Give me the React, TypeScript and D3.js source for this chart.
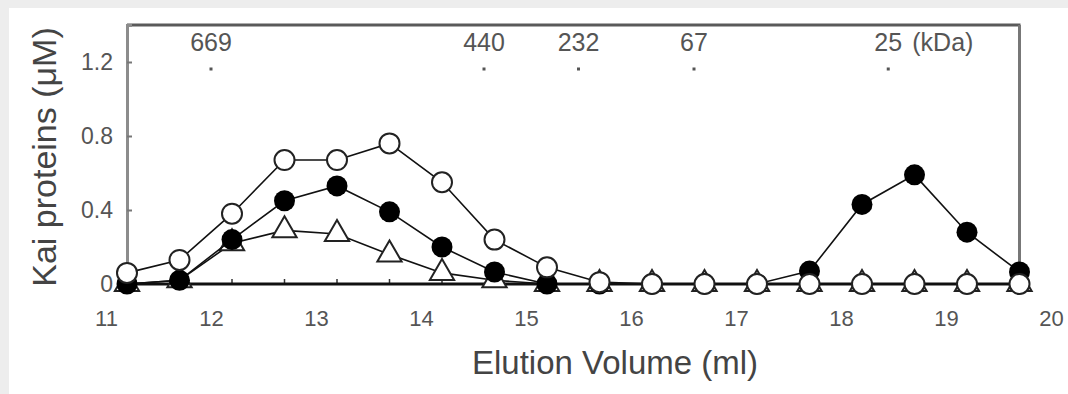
import React, { useRef, useEffect } from 'react';
import * as d3 from 'd3';

// elution volumes (ml) of the collected fractions
const VOLUMES = [11.2, 11.7, 12.2, 12.7, 13.2, 13.7, 14.2, 14.7, 15.2, 15.7, 16.2, 16.7, 17.2, 17.7, 18.2, 18.7, 19.2, 19.7];
// protein concentration (uM) per fraction
const OPEN_CIRCLES = [0.06, 0.13, 0.38, 0.67, 0.67, 0.76, 0.55, 0.24, 0.09, 0.01, 0, 0, 0, 0, 0, 0, 0, 0];
const FILLED_CIRCLES = [0, 0.02, 0.24, 0.45, 0.53, 0.39, 0.2, 0.065, 0, 0, 0, 0, 0, 0.07, 0.43, 0.59, 0.28, 0.065];
const OPEN_TRIANGLES = [0, 0.02, 0.22, 0.29, 0.27, 0.16, 0.06, 0.02, 0, 0, 0, 0, 0, 0, 0, 0, 0, 0];

const X_TICKS = [11, 12, 13, 14, 15, 16, 17, 18, 19, 20];
const Y_TICKS = [0, 0.4, 0.8, 1.2];

// size markers on top (kDa)
const MARKER_VOLUMES = [12.0, 14.6, 15.5, 16.6, 18.45];
const MARKER_LABELS = ['669', '440', '232', '67', '25'];

const FONT = '"Liberation Sans", Arial, Helvetica, sans-serif';

function ElutionChart() {
  const ref = useRef(null);
  const WIDTH = 1068;
  const HEIGHT = 394;

  useEffect(() => {
    const svg = d3.select(ref.current);
    svg.selectAll('*').remove();

    const xScale = d3.scaleLinear().domain([11, 20]).range([106, 1051]);
    const yScale = d3.scaleLinear().domain([0, 1.4]).range([284, 25]);

    const left = xScale(VOLUMES[0]);
    const right = xScale(VOLUMES[VOLUMES.length - 1]);
    const top = yScale(1.4);
    const bottom = yScale(0);

    svg.append('rect').attr('width', WIDTH).attr('height', HEIGHT).attr('fill', '#ededed');
    svg.append('rect').attr('x', 9).attr('y', 8).attr('width', WIDTH - 9).attr('height', HEIGHT - 8).attr('fill', '#fff');

    // frame: top and right
    svg.append('line')
      .attr('x1', left).attr('x2', right + 1).attr('y1', top).attr('y2', top)
      .attr('stroke', '#5a5a5a').attr('stroke-width', 3);
    svg.append('line')
      .attr('x1', right).attr('x2', right).attr('y1', top).attr('y2', bottom)
      .attr('stroke', '#777').attr('stroke-width', 3);

    // y axis
    const yAxisGroup = svg.append('g').attr('transform', `translate(${left}, 0)`);
    const yAxis = d3.axisLeft(yScale)
      .tickValues(Y_TICKS)
      .tickSize(-5)
      .tickPadding(14)
      .tickFormat(d => (d === 0 ? '0' : d.toFixed(1)));
    yAxis(yAxisGroup);
    yAxisGroup.select('.domain').attr('stroke', '#8c8c8c').attr('stroke-width', 3);
    yAxisGroup.selectAll('.tick line').attr('stroke', '#777').attr('stroke-width', 2);
    yAxisGroup.selectAll('.tick text')
      .attr('font-family', FONT).attr('font-size', 23).attr('fill', '#555');

    // x axis labels
    const xAxisGroup = svg.append('g').attr('transform', `translate(0, ${bottom})`);
    const xAxis = d3.axisBottom(xScale)
      .tickValues(X_TICKS)
      .tickSize(0)
      .tickPadding(26)
      .tickFormat(d => String(d));
    xAxis(xAxisGroup);
    xAxisGroup.select('.domain').remove();
    xAxisGroup.selectAll('.tick text')
      .attr('font-family', FONT).attr('font-size', 22).attr('fill', '#555');

    // small ticks at the fraction positions
    svg.append('g')
      .selectAll('line')
      .data(VOLUMES.slice(1, -1))
      .join('line')
      .attr('x1', d => xScale(d)).attr('x2', d => xScale(d))
      .attr('y1', bottom).attr('y2', bottom - 5)
      .attr('stroke', '#333').attr('stroke-width', 1.5);

    // baseline
    svg.append('line')
      .attr('x1', left).attr('x2', right).attr('y1', bottom).attr('y2', bottom)
      .attr('stroke', '#111').attr('stroke-width', 3);

    // size markers
    const markers = svg.append('g');
    markers.selectAll('text')
      .data(MARKER_LABELS)
      .join('text')
      .attr('x', (_, i) => xScale(MARKER_VOLUMES[i]))
      .attr('y', 51)
      .attr('text-anchor', 'middle')
      .attr('font-family', FONT).attr('font-size', 25).attr('fill', '#555')
      .text(d => d);
    markers.selectAll('rect')
      .data(MARKER_VOLUMES)
      .join('rect')
      .attr('x', d => xScale(d) - 1.5)
      .attr('y', 67.5)
      .attr('width', 3).attr('height', 3)
      .attr('fill', '#555');
    markers.append('text')
      .attr('x', xScale(MARKER_VOLUMES[MARKER_VOLUMES.length - 1]) + 24)
      .attr('y', 51)
      .attr('font-family', FONT).attr('font-size', 25).attr('fill', '#555')
      .text('(kDa)');

    const line = d3.line()
      .x((_, i) => xScale(VOLUMES[i]))
      .y(d => yScale(d));

    const triangle = d3.symbol().type(d3.symbolTriangle).size(255);

    // open triangles (bottom layer)
    svg.append('path')
      .datum(OPEN_TRIANGLES)
      .attr('d', line)
      .attr('fill', 'none').attr('stroke', '#111').attr('stroke-width', 1.6);
    svg.append('g')
      .selectAll('path')
      .data(OPEN_TRIANGLES)
      .join('path')
      .attr('d', triangle)
      .attr('transform', (d, i) => `translate(${xScale(VOLUMES[i])}, ${yScale(d)})`)
      .attr('fill', '#fff').attr('stroke', '#222').attr('stroke-width', 2);

    // filled circles
    svg.append('path')
      .datum(FILLED_CIRCLES)
      .attr('d', line)
      .attr('fill', 'none').attr('stroke', '#111').attr('stroke-width', 1.6);
    svg.append('g')
      .selectAll('circle')
      .data(FILLED_CIRCLES)
      .join('circle')
      .attr('cx', (_, i) => xScale(VOLUMES[i]))
      .attr('cy', d => yScale(d))
      .attr('r', 10.5)
      .attr('fill', '#000');

    // open circles (top layer)
    svg.append('path')
      .datum(OPEN_CIRCLES)
      .attr('d', line)
      .attr('fill', 'none').attr('stroke', '#111').attr('stroke-width', 1.6);
    svg.append('g')
      .selectAll('circle')
      .data(OPEN_CIRCLES)
      .join('circle')
      .attr('cx', (_, i) => xScale(VOLUMES[i]))
      .attr('cy', d => yScale(d))
      .attr('r', 10)
      .attr('fill', '#fff').attr('stroke', '#222').attr('stroke-width', 2);

    // axis titles
    svg.append('text')
      .attr('x', 615).attr('y', 374)
      .attr('text-anchor', 'middle')
      .attr('font-family', FONT).attr('font-size', 33).attr('fill', '#444')
      .text('Elution Volume (ml)');
    svg.append('text')
      .attr('transform', 'translate(56, 157) rotate(-90)')
      .attr('text-anchor', 'middle')
      .attr('font-family', FONT).attr('font-size', 34).attr('fill', '#444')
      .text('Kai proteins (\u03bcM)');
  }, []);

  return (
    <svg
      ref={ref}
      width={WIDTH}
      height={HEIGHT}
      style={{ position: 'absolute', left: 0, top: 0, display: 'block' }}
    ></svg>
  );
}

export default function App() {
  return <ElutionChart />;
}
